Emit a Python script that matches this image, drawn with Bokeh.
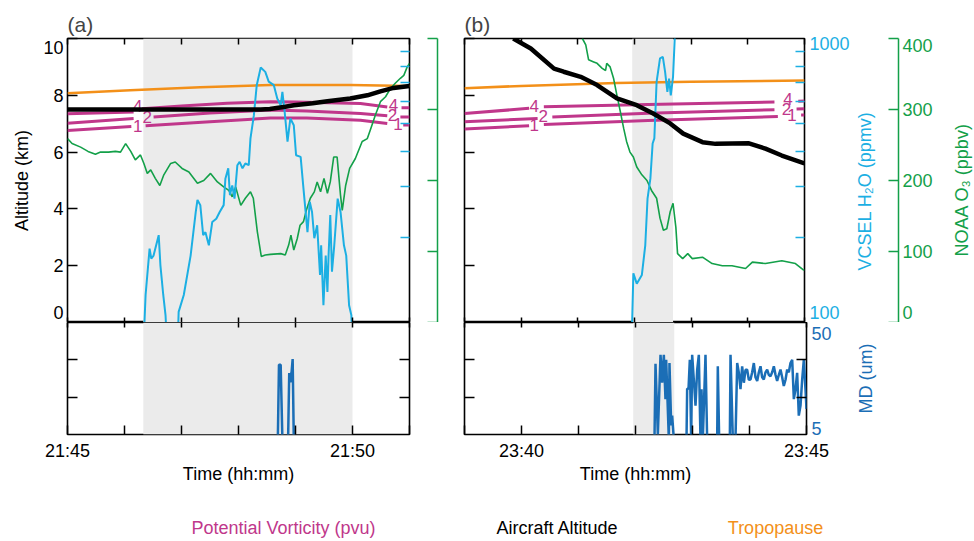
import math
from bokeh.plotting import figure
from bokeh.models import Range1d, LinearAxis, LogScale, FixedTicker, BoxAnnotation, Label, Title
from bokeh.layouts import column, row
from bokeh.embed import file_html
from bokeh.resources import INLINE
from bokeh.core.properties import value

nan = float("nan")
FONT = "Liberation Sans"
C_ORANGE = "#F39019"
C_PV = "#C0378B"
C_GREEN = "#13A049"
C_CYAN = "#1CAFE3"
C_MD = "#1B6EB6"
C_SHADE = "#EBEBEB"

# ---------------- data (time in minutes after panel start) ----------------
A_START = "21:45"
B_START = "23:39"
A_TICK_LABELS = ["21:45", "21:50"]
B_TICK_LABELS = ["23:40", "23:45"]
A_SHADE = [1.33, 5.0]
B_SHADE = [2.96, 3.68]

A_alt_t = [0, 1, 2, 3, 3.39, 3.55, 3.82, 3.97, 4.3, 4.56, 4.96, 5.26, 5.49, 5.72, 6.0]
A_alt = [7.5, 7.5, 7.5, 7.5, 7.5, 7.52, 7.6, 7.65, 7.72, 7.79, 7.89, 8.0, 8.14, 8.26, 8.33]
A_trop_t = [0, 1.1, 2.33, 3.56, 4.96, 6.0]
A_trop = [8.07, 8.18, 8.28, 8.36, 8.36, 8.33]

A_pv4_t = [0, 1.16, nan, 1.31, 2.0, 2.8, 3.56, 4.0, 5.14, 5.61, nan, 5.86, 6.0]
A_pv4 = [7.35, 7.41, nan, 7.53, 7.62, 7.72, 7.77, 7.76, 7.71, 7.59, nan, 7.56, 7.56]
A_pv2_t = [0, 1.16, nan, 1.51, 2.5, 3.56, 4.2, 5.14, 5.61, nan, 5.84, 6.0]
A_pv2 = [7.02, 7.18, nan, 7.24, 7.38, 7.48, 7.45, 7.36, 7.28, nan, 7.24, 7.24]
A_pv1_t = [0, 1.12, nan, 1.37, 2.5, 3.56, 4.2, 5.14, 5.61, nan, 5.89, 6.0]
A_pv1 = [6.76, 6.9, nan, 6.93, 7.07, 7.2, 7.2, 7.12, 7.01, nan, 6.95, 6.95]
A_pv_lab = ["4", "2", "1", "4", "2", "1"]
A_pv_lab_t = [1.23, 1.40, 1.23, 5.72, 5.70, 5.80]
A_pv_lab_y = [7.63, 7.25, 6.92, 7.65, 7.30, 7.0]

A_o3_t = [0, 0.08, 0.23, 0.36, 0.49, 0.58, 0.72, 0.84, 0.93, 1.02, 1.11, 1.19, 1.28, 1.34,
          1.40, 1.46, 1.54, 1.62, 1.69, 1.81, 1.89, 2.01, 2.13, 2.28, 2.39, 2.51, 2.63, 2.74,
          2.83, 2.89, 2.95, 3.04, 3.12, 3.21, 3.26, 3.33, 3.40, 3.47, 3.56, 3.74, 3.82, 3.88,
          3.92, 3.97, 4.03, 4.08, 4.14, 4.19, 4.26, 4.33, 4.38, 4.44, 4.50, 4.56, 4.61, 4.67,
          4.73, 4.79, 4.82, 4.88, 4.95, 5.05, 5.17, 5.26, 5.32, 5.40, 5.49, 5.58, 5.67, 5.75,
          5.84, 5.90, 5.96, 6.0]
A_o3 = [259, 252, 247, 241, 237, 240, 240, 241, 240, 252, 241, 229, 236, 224,
        210, 215, 203, 193, 208, 224, 226, 217, 212, 196, 200, 210, 198, 191,
        186, 177, 191, 165, 175, 184, 175, 128, 93, 95, 96, 97, 95, 109,
        123, 102, 118, 137, 142, 158, 175, 184, 198, 184, 203, 182, 198, 233,
        233, 179, 158, 193, 217, 231, 255, 259, 273, 292, 311, 318, 330, 337,
        344, 348, 360, 365]

A_h2o_t = [1.33, 1.37, 1.44, 1.47, 1.51, 1.60, 1.63, 1.68, 1.72, 1.75, 1.93, 1.95, 2.04, 2.16,
           2.25, 2.28, 2.33, 2.38, 2.42, 2.48, 2.54, 2.61, 2.67, 2.74, 2.77, 2.82, 2.85, 2.89,
           2.93, 2.98, 3.02, 3.07, 3.12, 3.18, 3.21, 3.27, 3.32, 3.39, 3.47, 3.53, 3.62, 3.68,
           3.74, 3.77, 3.81, 3.86, 3.91, 3.97, 4.01, 4.09, 4.14, 4.21, 4.25, 4.29, 4.33, 4.38,
           4.43, 4.45, 4.49, 4.53, 4.56, 4.58, 4.61, 4.64, 4.68, 4.74, 4.79, 4.85, 4.89, 4.94,
           4.98, 5.0]
A_h2o = [80, 125, 182, 168, 172, 203, 159, 125, 106, 80, 80, 109, 125, 172,
         245, 270, 259, 203, 208, 187, 226, 232, 245, 259, 321, 349, 281, 304,
         273, 358, 368, 349, 363, 358, 445, 537, 685, 790, 763, 705, 685, 615,
         582, 649, 552, 433, 523, 495, 388, 383, 296, 208, 266, 245, 198, 220,
         147, 187, 115, 172, 128, 172, 239, 151, 187, 273, 245, 187, 172, 115,
         106, 80]

A_md_t = [3.69, 3.71, 3.74, 3.77, 3.87, 3.89, 3.91, 3.93, 3.95, 3.97]
A_md = [3, 33, 33, 3, 3, 29.7, 26, 29.7, 35.3, 3]

B_alt_t = [0.86, 1.17, 1.58, 1.75, 2.05, 2.34, 2.69, 3.04, 3.33, 3.63, 3.86, 4.20, 4.43, 5.02,
           5.31, 5.60, 6.0]
B_alt = [10.0, 9.65, 8.94, 8.83, 8.65, 8.36, 7.89, 7.65, 7.36, 7.01, 6.65, 6.35, 6.29, 6.31,
         6.12, 5.88, 5.6]
B_trop_t = [0, 1.0, 2.68, 4.0, 6.0]
B_trop = [8.25, 8.33, 8.43, 8.48, 8.52]

B_pv4_t = [0, 1.14, nan, 1.40, 3.24, 5.47, nan, 5.89, 6.0]
B_pv4 = [7.36, 7.54, nan, 7.6, 7.68, 7.76, nan, 7.79, 7.8]
B_pv2_t = [0, 1.29, nan, 1.55, 3.24, 5.47, nan, 5.86, 6.0]
B_pv2 = [7.07, 7.18, nan, 7.24, 7.37, 7.49, nan, 7.52, 7.53]
B_pv1_t = [0, 1.14, nan, 1.40, 3.24, 5.53, nan, 5.94, 6.0]
B_pv1 = [6.81, 6.93, nan, 6.97, 7.11, 7.25, nan, 7.31, 7.31]
B_pv_lab = ["4", "2", "1", "4", "2", "1"]
B_pv_lab_t = [1.23, 1.39, 1.23, 5.71, 5.68, 5.78]
B_pv_lab_y = [7.62, 7.28, 6.97, 7.88, 7.52, 7.31]

B_o3_t = [2.08, 2.14, 2.19, 2.28, 2.34, 2.43, 2.49, 2.51, 2.57, 2.63, 2.69, 2.75, 2.81, 2.86,
          2.92, 2.98, 3.04, 3.13, 3.22, 3.30, 3.39, 3.45, 3.51, 3.57, 3.63, 3.68, 3.73, 3.76,
          3.85, 3.94, 4.02, 4.20, 4.37, 4.55, 4.72, 4.96, 5.08, 5.31, 5.60, 5.84, 5.98, 6.0]
B_o3 = [400, 391, 370, 367, 365, 358, 355, 365, 360, 344, 320, 297, 273, 255,
        240, 233, 219, 208, 200, 186, 175, 147, 130, 132, 156, 168, 134, 97,
        90, 97, 90, 92, 83, 80, 80, 76, 85, 83, 87, 83, 74, 74]

B_h2o_t = [2.95, 2.96, 2.98, 3.04, 3.13, 3.19, 3.23, 3.28, 3.32, 3.35, 3.39, 3.45, 3.50, 3.54,
           3.58, 3.61, 3.64, 3.68, 3.71, 3.73]
B_h2o = [80, 103, 149, 137, 147, 187, 273, 321, 427, 445, 704, 851, 862, 763,
         649, 723, 631, 733, 1000, 1300]

B_md_t = [3.333, 3.351, 3.392, 3.439, 3.468, 3.497, 3.526, 3.538, 3.585, 3.596,
          3.626, 3.643, 3.673, 3.895, 3.906, 3.93, 3.953, 3.977, 3.994, 4.023,
          4.053, 4.082, 4.111, 4.14, 4.158, 4.181, 4.228, 4.257, 4.433, 4.444,
          4.468, 4.655, 4.667, 4.708, 4.754, 4.784, 4.813, 4.842, 4.871, 4.901,
          4.93, 4.959, 4.988, 5.018, 5.047, 5.076, 5.105, 5.135, 5.164, 5.193,
          5.222, 5.251, 5.281, 5.31, 5.339, 5.368, 5.398, 5.427, 5.456, 5.485,
          5.515, 5.544, 5.573, 5.602, 5.632, 5.661, 5.69, 5.719, 5.749, 5.778,
          5.807, 5.836, 5.865, 5.895, 5.924, 5.953, 5.982, 6.0]
B_md = [3, 33.4, 5, 37, 25.8, 37, 19.2, 35, 3, 33.7,
        8.7, 12.6, 3, 3, 23.4, 23.4, 35, 3, 37, 27.1,
        16.6, 31, 37, 3, 23.2, 3, 37, 3, 3, 32.4,
        3, 3, 37, 3, 3, 33.7, 29.8, 23.2, 32.4, 25.8,
        31, 31, 27, 27.1, 30, 33.7, 28, 26.5, 30, 32.4,
        28, 27.1, 30, 31.1, 29, 28.4, 30, 32.4, 29, 26.5,
        29, 31.1, 28, 24.5, 27, 31.1, 30, 33.7, 35, 19.2,
        23.2, 29.8, 12.6, 16.6, 27.1, 35, 23.2, 15.3]

ALT_TICKS = [0, 2, 4, 6, 8, 10]
H2O_MINOR = [200, 300, 400, 500, 600, 700, 800, 900]
H2O_LABELS = {108.4: "100", 957: "1000"}
O3_TICKS = [0, 100, 200, 300, 400]
O3_LABELS = {14: "0", 100: "100", 200: "200", 300: "300", 390: "400"}
ALT_LABELS = {0.35: "0", 2: "2", 4: "4", 6: "6", 8: "8", 9.7: "10"}
MD_MINOR = [20, 35]
MD_LABELS = {7.37: "5", 45.66: "50"}

H2O_TITLE = "VCSEL H\u2082O (ppmv)"
O3_TITLE = "NOAA O\u2083 (ppbv)"
MD_TITLE = "MD (um)"
LEGEND_TEXT = ["Potential Vorticity (pvu)", "Aircraft Altitude", "Tropopause"]
LEGEND_COLOR = [C_PV, "black", C_ORANGE]
LEGEND_X = [283, 557, 775]


def hm(s):
    h, m = s.split(":")
    return int(h) * 60 + int(m)


def sh(ts, t0):
    return [t0 + t for t in ts]


FS = "18px"
TOP_H, BOT_H = 322, 164


def make_axis(ticks=(), minor=(), minor_in=0, overrides=None, tick_color="black",
              label_color="black", line_color=None, y_range_name=None, label=None,
              standoff=0, label_standoff=0, tick_out=0):
    ax = LinearAxis(ticker=FixedTicker(ticks=list(ticks), minor_ticks=list(minor)))
    if y_range_name:
        ax.y_range_name = y_range_name
    ax.axis_line_color = line_color
    ax.axis_line_width = 1.5
    ax.major_tick_line_color = tick_color
    ax.minor_tick_line_color = tick_color
    ax.major_tick_line_width = 1.5
    ax.minor_tick_line_width = 1.5
    ax.major_tick_in = 0
    ax.major_tick_out = tick_out
    if tick_out:
        ax.major_tick_line_color = None
    ax.minor_tick_in = minor_in
    ax.minor_tick_out = 0
    ax.major_label_text_font = FONT
    ax.major_label_text_font_size = FS
    ax.major_label_text_color = label_color
    ax.major_label_standoff = standoff
    if overrides:
        ax.major_label_overrides = overrides
    ax.axis_label_text_font = FONT
    ax.axis_label_text_font_size = FS
    ax.axis_label_text_font_style = "normal"
    ax.axis_label_text_color = label_color
    ax.axis_label_standoff = label_standoff
    if label:
        ax.axis_label = label
    return ax


def base(width, height, t0, yr, left, right, top, bottom):
    p = figure(width=width, height=height, x_range=Range1d(t0, t0 + 6), y_range=yr,
               x_axis_type=None, y_axis_type=None, output_backend="svg",
               toolbar_location=None, min_border_left=left, min_border_right=right,
               min_border_top=top, min_border_bottom=bottom)
    p.outline_line_color = "black"
    p.outline_line_width = 1.6
    p.background_fill_color = "white"
    p.border_fill_color = "white"
    return p


def side_fig(width, height, yr, left, right, top, bottom):
    # a blank strip that carries an axis title (read bottom-to-top) or an axis
    p = figure(width=width, height=height, x_range=Range1d(0, 1), y_range=yr,
               x_axis_type=None, y_axis_type=None, output_backend="svg",
               toolbar_location=None, min_border_left=left, min_border_right=right,
               min_border_top=top, min_border_bottom=bottom)
    p.outline_line_color = None
    p.background_fill_color = "white"
    p.border_fill_color = "white"
    return p


def side_title(p, text, color, start):
    # title reading bottom-to-top, starting `start` px above the strip's frame bottom
    p.add_layout(Title(text=text, align="left", offset=start, standoff=1,
                       text_color=color, text_font=FONT, text_font_size=FS,
                       text_font_style="normal"), "left")


def minute_ticks(t0):
    return [t0 + i for i in range(7)]


def top_panel(width, left, right, t0, title, d, shade, labelled):
    p = base(width, TOP_H, t0, Range1d(0, 10), left, right, 38, 0)
    p.extra_y_ranges = {"h2o": Range1d(100, 1000), "o3": Range1d(0, 400)}
    p.extra_y_scales = {"h2o": LogScale()}
    p.title.text = title
    p.title.text_font = FONT
    p.title.text_font_size = "21px"
    p.title.text_font_style = "normal"
    p.title.align = "left"
    p.title.standoff = 6
    p.add_layout(BoxAnnotation(left=t0 + shade[0], right=t0 + shade[1], fill_color=C_SHADE,
                               fill_alpha=1, line_color=None, level="underlay"))
    p.line(sh(d["trop_t"], t0), d["trop"], line_color=C_ORANGE, line_width=2.5)
    for k in ("pv4", "pv2", "pv1"):
        p.line(sh(d[k + "_t"], t0), d[k], line_color=C_PV, line_width=3)
    p.text(x=sh(d["lab_t"], t0), y=d["lab_y"], text=d["lab"], text_color=C_PV,
           text_font=value(FONT), text_font_size="17px", text_align="center",
           text_baseline="middle")
    p.line(sh(d["o3_t"], t0), d["o3"], y_range_name="o3", line_color=C_GREEN, line_width=1.6)
    p.line(sh(d["h2o_t"], t0), d["h2o"], y_range_name="h2o", line_color=C_CYAN, line_width=2)
    p.line(sh(d["alt_t"], t0), d["alt"], line_color="black", line_width=4.5)

    p.add_layout(make_axis(minor=minute_ticks(t0), minor_in=6), "above")
    p.add_layout(make_axis(minor=minute_ticks(t0), minor_in=5), "below")
    if labelled:
        p.add_layout(make_axis(ticks=list(ALT_LABELS.keys()), minor=ALT_TICKS, minor_in=10,
                               overrides=ALT_LABELS, standoff=4, label="Altitude (km)",
                               label_standoff=8), "left")
        p.add_layout(make_axis(ticks=[500], overrides={500: ""}, minor=H2O_MINOR, minor_in=9,
                               tick_color=C_CYAN, y_range_name="h2o", tick_out=28), "right")
        p.add_layout(make_axis(minor=O3_TICKS, minor_in=10, tick_color=C_GREEN,
                               line_color=C_GREEN, y_range_name="o3"), "right")
    else:
        p.add_layout(make_axis(minor=ALT_TICKS, minor_in=10), "left")
        p.add_layout(make_axis(ticks=list(H2O_LABELS.keys()), minor=H2O_MINOR, minor_in=9,
                               tick_color=C_CYAN, label_color=C_CYAN, y_range_name="h2o",
                               overrides=H2O_LABELS, standoff=5), "right")
    return p


def bottom_panel(width, left, right, t0, md_t, md, shade, tick_labels, with_md_axis):
    p = base(width, BOT_H, t0, Range1d(5, 50), left, right, 0, 50)
    p.add_layout(BoxAnnotation(left=t0 + shade[0], right=t0 + shade[1], fill_color=C_SHADE,
                               fill_alpha=1, line_color=None, level="underlay"))
    p.line(sh(md_t, t0), md, line_color=C_MD, line_width=2.5)
    p.add_layout(make_axis(minor=minute_ticks(t0), minor_in=5), "above")
    ticks = [hm(s) for s in tick_labels]
    p.add_layout(make_axis(ticks=ticks, minor=minute_ticks(t0), minor_in=9,
                           overrides={hm(s): s for s in tick_labels}, standoff=6,
                           label="Time (hh:mm)", label_standoff=0), "below")
    p.add_layout(make_axis(minor=MD_MINOR, minor_in=10), "left")
    if with_md_axis:
        p.add_layout(make_axis(ticks=list(MD_LABELS.keys()), minor=MD_MINOR, minor_in=10,
                               label_color=C_MD, overrides=MD_LABELS, standoff=5), "right")
    else:
        p.add_layout(make_axis(minor=MD_MINOR, minor_in=10), "right")
    return p


dA = dict(alt_t=A_alt_t, alt=A_alt, trop_t=A_trop_t, trop=A_trop,
          pv4_t=A_pv4_t, pv4=A_pv4, pv2_t=A_pv2_t, pv2=A_pv2, pv1_t=A_pv1_t, pv1=A_pv1,
          lab=A_pv_lab, lab_t=A_pv_lab_t, lab_y=A_pv_lab_y,
          o3_t=A_o3_t, o3=A_o3, h2o_t=A_h2o_t, h2o=A_h2o)
dB = dict(alt_t=B_alt_t, alt=B_alt, trop_t=B_trop_t, trop=B_trop,
          pv4_t=B_pv4_t, pv4=B_pv4, pv2_t=B_pv2_t, pv2=B_pv2, pv1_t=B_pv1_t, pv1=B_pv1,
          lab=B_pv_lab, lab_t=B_pv_lab_t, lab_y=B_pv_lab_y,
          o3_t=B_o3_t, o3=B_o3, h2o_t=B_h2o_t, h2o=B_h2o)

tA = hm(A_START)
tB = hm(B_START)
topA = top_panel(450, 67, 41, tA, "(a)", dA, A_SHADE, True)
botA = bottom_panel(450, 67, 41, tA, A_md_t, A_md, A_SHADE, A_TICK_LABELS, False)
topB = top_panel(402, 14, 46, tB, "(b)", dB, B_SHADE, False)
botB = bottom_panel(402, 14, 46, tB, B_md_t, B_md, B_SHADE, B_TICK_LABELS, True)

# title strips and the O3 axis strip to the right of panel (b)
s_h2o = side_fig(24, TOP_H, Range1d(0, 1), 23, 0, 38, 0)
side_title(s_h2o, H2O_TITLE, C_CYAN, 52)
s_o3ax = side_fig(59, TOP_H, Range1d(0, 400), 0, 36, 38, 0)
s_o3ax.add_layout(make_axis(ticks=list(O3_LABELS.keys()), minor=O3_TICKS, minor_in=10,
                            tick_color=C_GREEN, label_color=C_GREEN, line_color=C_GREEN,
                            overrides=O3_LABELS, standoff=4), "right")
s_o3 = side_fig(39, TOP_H, Range1d(0, 1), 37, 0, 38, 0)
side_title(s_o3, O3_TITLE, C_GREEN, 66)
s_md = side_fig(122, BOT_H, Range1d(5, 50), 15, 0, 0, 50)
s_md.add_layout(make_axis(label=MD_TITLE, label_color=C_MD, label_standoff=1), "left")

LEG_H = 54
leg = figure(width=974, height=LEG_H, x_range=Range1d(0, 974), y_range=Range1d(0, LEG_H),
             x_axis_type=None, y_axis_type=None, output_backend="svg",
             toolbar_location=None, min_border=0)
leg.outline_line_color = None
for txt, col, x in zip(LEGEND_TEXT, LEGEND_COLOR, LEGEND_X):
    leg.add_layout(Label(x=x, y=13, text=txt, text_color=col, text_font=FONT,
                         text_font_size="18px", text_align="center",
                         text_baseline="middle"))

right_col = column(row(topB, s_h2o, s_o3ax, s_o3), row(botB, s_md))
layout = column(row(column(topA, botA), right_col), leg)
open("out.html", "w").write(file_html(layout, INLINE))
